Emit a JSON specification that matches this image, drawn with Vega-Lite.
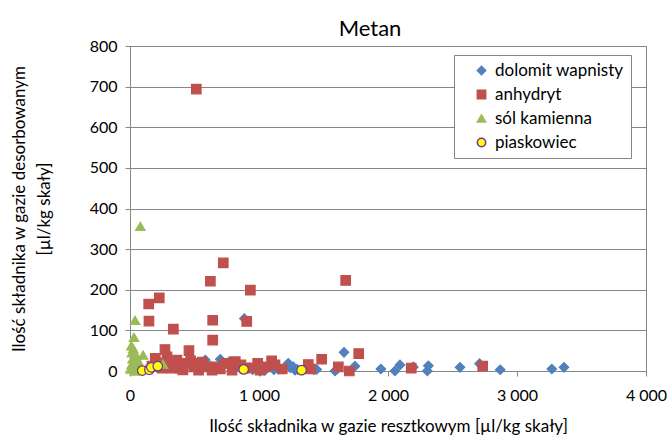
{
  "$schema": "https://vega.github.io/schema/vega-lite/v6.json",
  "width": 516,
  "height": 325,
  "autosize": {"type": "none"},
  "padding": {"left": 130, "top": 46, "right": 24, "bottom": 66},
  "config": {"font": "Lato", "view": {"stroke": "#868686", "strokeWidth": 1}},
  "title": {"text": "Metan", "fontSize": 22, "fontWeight": "normal", "color": "black", "font": "Lato", "offset": 9, "frame": "group", "dx": -18, "dy": 12},
  "data": {"values": [
    {"x": 886, "y": 129, "typ": "dolomit wapnisty"},
    {"x": 1659, "y": 46, "typ": "dolomit wapnisty"},
    {"x": 584, "y": 27, "typ": "dolomit wapnisty"},
    {"x": 700, "y": 29, "typ": "dolomit wapnisty"},
    {"x": 770, "y": 23, "typ": "dolomit wapnisty"},
    {"x": 620, "y": 3, "typ": "dolomit wapnisty"},
    {"x": 820, "y": 8, "typ": "dolomit wapnisty"},
    {"x": 950, "y": 3, "typ": "dolomit wapnisty"},
    {"x": 1008, "y": 0, "typ": "dolomit wapnisty"},
    {"x": 1047, "y": 2, "typ": "dolomit wapnisty"},
    {"x": 1111, "y": 10, "typ": "dolomit wapnisty"},
    {"x": 1116, "y": 3, "typ": "dolomit wapnisty"},
    {"x": 1155, "y": 5, "typ": "dolomit wapnisty"},
    {"x": 1227, "y": 19, "typ": "dolomit wapnisty"},
    {"x": 1245, "y": 8, "typ": "dolomit wapnisty"},
    {"x": 1266, "y": 10, "typ": "dolomit wapnisty"},
    {"x": 1279, "y": 2, "typ": "dolomit wapnisty"},
    {"x": 1297, "y": 4, "typ": "dolomit wapnisty"},
    {"x": 1408, "y": 8, "typ": "dolomit wapnisty"},
    {"x": 1426, "y": 3, "typ": "dolomit wapnisty"},
    {"x": 1447, "y": 4, "typ": "dolomit wapnisty"},
    {"x": 1589, "y": 0, "typ": "dolomit wapnisty"},
    {"x": 1607, "y": 5, "typ": "dolomit wapnisty"},
    {"x": 1744, "y": 12, "typ": "dolomit wapnisty"},
    {"x": 1945, "y": 5, "typ": "dolomit wapnisty"},
    {"x": 2054, "y": 0, "typ": "dolomit wapnisty"},
    {"x": 2093, "y": 15, "typ": "dolomit wapnisty"},
    {"x": 2196, "y": 10, "typ": "dolomit wapnisty"},
    {"x": 2305, "y": 0, "typ": "dolomit wapnisty"},
    {"x": 2313, "y": 13, "typ": "dolomit wapnisty"},
    {"x": 2558, "y": 9, "typ": "dolomit wapnisty"},
    {"x": 2710, "y": 18, "typ": "dolomit wapnisty"},
    {"x": 2870, "y": 3, "typ": "dolomit wapnisty"},
    {"x": 3270, "y": 5, "typ": "dolomit wapnisty"},
    {"x": 3364, "y": 9, "typ": "dolomit wapnisty"},
    {"x": 514, "y": 694, "typ": "anhydryt"},
    {"x": 723, "y": 266, "typ": "anhydryt"},
    {"x": 623, "y": 221, "typ": "anhydryt"},
    {"x": 933, "y": 199, "typ": "anhydryt"},
    {"x": 1672, "y": 223, "typ": "anhydryt"},
    {"x": 227, "y": 180, "typ": "anhydryt"},
    {"x": 145, "y": 165, "typ": "anhydryt"},
    {"x": 147, "y": 123, "typ": "anhydryt"},
    {"x": 641, "y": 125, "typ": "anhydryt"},
    {"x": 905, "y": 122, "typ": "anhydryt"},
    {"x": 336, "y": 103, "typ": "anhydryt"},
    {"x": 641, "y": 76, "typ": "anhydryt"},
    {"x": 271, "y": 53, "typ": "anhydryt"},
    {"x": 457, "y": 50, "typ": "anhydryt"},
    {"x": 1773, "y": 43, "typ": "anhydryt"},
    {"x": 1486, "y": 29, "typ": "anhydryt"},
    {"x": 1098, "y": 25, "typ": "anhydryt"},
    {"x": 1382, "y": 16, "typ": "anhydryt"},
    {"x": 1615, "y": 10, "typ": "anhydryt"},
    {"x": 1700, "y": 0, "typ": "anhydryt"},
    {"x": 2180, "y": 7, "typ": "anhydryt"},
    {"x": 2734, "y": 12, "typ": "anhydryt"},
    {"x": 196, "y": 31, "typ": "anhydryt"},
    {"x": 287, "y": 35, "typ": "anhydryt"},
    {"x": 364, "y": 27, "typ": "anhydryt"},
    {"x": 429, "y": 19, "typ": "anhydryt"},
    {"x": 494, "y": 10, "typ": "anhydryt"},
    {"x": 532, "y": 19, "typ": "anhydryt"},
    {"x": 597, "y": 10, "typ": "anhydryt"},
    {"x": 661, "y": 10, "typ": "anhydryt"},
    {"x": 739, "y": 19, "typ": "anhydryt"},
    {"x": 816, "y": 23, "typ": "anhydryt"},
    {"x": 248, "y": 7, "typ": "anhydryt"},
    {"x": 326, "y": 7, "typ": "anhydryt"},
    {"x": 390, "y": 7, "typ": "anhydryt"},
    {"x": 532, "y": 2, "typ": "anhydryt"},
    {"x": 636, "y": 2, "typ": "anhydryt"},
    {"x": 791, "y": 2, "typ": "anhydryt"},
    {"x": 891, "y": 7, "typ": "anhydryt"},
    {"x": 990, "y": 19, "typ": "anhydryt"},
    {"x": 1008, "y": 2, "typ": "anhydryt"},
    {"x": 1124, "y": 15, "typ": "anhydryt"},
    {"x": 1400, "y": 5, "typ": "anhydryt"},
    {"x": 170, "y": 12, "typ": "anhydryt"},
    {"x": 210, "y": 20, "typ": "anhydryt"},
    {"x": 305, "y": 18, "typ": "anhydryt"},
    {"x": 350, "y": 10, "typ": "anhydryt"},
    {"x": 410, "y": 3, "typ": "anhydryt"},
    {"x": 470, "y": 25, "typ": "anhydryt"},
    {"x": 560, "y": 22, "typ": "anhydryt"},
    {"x": 700, "y": 5, "typ": "anhydryt"},
    {"x": 860, "y": 15, "typ": "anhydryt"},
    {"x": 950, "y": 8, "typ": "anhydryt"},
    {"x": 1050, "y": 10, "typ": "anhydryt"},
    {"x": 1180, "y": 5, "typ": "anhydryt"},
    {"x": 80, "y": 356, "typ": "sól kamienna"},
    {"x": 39, "y": 125, "typ": "sól kamienna"},
    {"x": 31, "y": 83, "typ": "sól kamienna"},
    {"x": 101, "y": 39, "typ": "sól kamienna"},
    {"x": 255, "y": 17, "typ": "sól kamienna"},
    {"x": 10, "y": 62, "typ": "sól kamienna"},
    {"x": 15, "y": 45, "typ": "sól kamienna"},
    {"x": 20, "y": 30, "typ": "sól kamienna"},
    {"x": 28, "y": 20, "typ": "sól kamienna"},
    {"x": 40, "y": 12, "typ": "sól kamienna"},
    {"x": 5, "y": 5, "typ": "sól kamienna"},
    {"x": 50, "y": 3, "typ": "sól kamienna"},
    {"x": 62, "y": 26, "typ": "sól kamienna"},
    {"x": 25, "y": 55, "typ": "sól kamienna"},
    {"x": 12, "y": 15, "typ": "sól kamienna"},
    {"x": 70, "y": 6, "typ": "sól kamienna"},
    {"x": 45, "y": 40, "typ": "sól kamienna"},
    {"x": 85, "y": 10, "typ": "sól kamienna"},
    {"x": 120, "y": 4, "typ": "sól kamienna"},
    {"x": 35, "y": 0, "typ": "sól kamienna"},
    {"x": 95, "y": 1, "typ": "piaskowiec"},
    {"x": 150, "y": 3, "typ": "piaskowiec"},
    {"x": 165, "y": 9, "typ": "piaskowiec"},
    {"x": 215, "y": 12, "typ": "piaskowiec"},
    {"x": 881, "y": 4, "typ": "piaskowiec"},
    {"x": 1330, "y": 2, "typ": "piaskowiec"}
  ]},
  "mark": {"type": "point", "filled": true, "size": 90, "strokeWidth": 1.2, "opacity": 1},
  "encoding": {
    "x": {
      "field": "x", "type": "quantitative",
      "scale": {"domain": [0, 4000], "nice": false},
      "axis": {
        "values": [0, 1000, 2000, 3000, 4000],
        "grid": false,
        "labelExpr": "replace(format(datum.value, ','), ',', ' ')",
        "title": "Ilość składnika w gazie resztkowym [µl/kg skały]",
        "titleFontSize": 17, "titleFontWeight": "normal", "titleColor": "black", "titleFont": "Lato",
        "labelFontSize": 16, "labelColor": "black", "labelFont": "Lato",
        "labelPadding": 11, "titlePadding": 15, "labelFlush": false,
        "domainColor": "#868686", "tickColor": "#868686", "tickSize": 5
      }
    },
    "y": {
      "field": "y", "type": "quantitative",
      "scale": {"domain": [0, 800], "nice": false},
      "axis": {
        "values": [0, 100, 200, 300, 400, 500, 600, 700, 800],
        "grid": true, "gridColor": "#868686", "gridWidth": 1,
        "title": ["Ilość składnika w gazie desorbowanym", "[µl/kg skały]"],
        "titleFontSize": 17, "titleFontWeight": "normal", "titleColor": "black", "titleFont": "Lato",
        "titleLineHeight": 25,
        "titlePadding": 36,
        "labelFontSize": 16, "labelColor": "black", "labelFont": "Lato", "labelPadding": 8,
        "domainColor": "#868686", "tickColor": "#868686", "tickSize": 5
      }
    },
    "shape": {
      "field": "typ", "type": "nominal",
      "scale": {"domain": ["dolomit wapnisty", "anhydryt", "sól kamienna", "piaskowiec"], "range": ["diamond", "square", "triangle-up", "circle"]},
      "legend": {
        "orient": "none", "legendX": 324, "legendY": 9, "title": null,
        "labelFontSize": 17, "labelFont": "Lato", "labelColor": "black",
        "strokeColor": "#868686", "fillColor": "white", "padding": 7,
        "rowPadding": 6, "symbolSize": 70, "symbolOffset": 12, "labelOffset": 5
      }
    },
    "fill": {
      "field": "typ", "type": "nominal",
      "scale": {"domain": ["dolomit wapnisty", "anhydryt", "sól kamienna", "piaskowiec"], "range": ["#4F81BD", "#C0504D", "#9BBB59", "#FFFF00"]}
    },
    "stroke": {
      "field": "typ", "type": "nominal",
      "scale": {"domain": ["dolomit wapnisty", "anhydryt", "sól kamienna", "piaskowiec"], "range": ["#4F81BD", "#C0504D", "#9BBB59", "#7030A0"]}
    }
  }
}
